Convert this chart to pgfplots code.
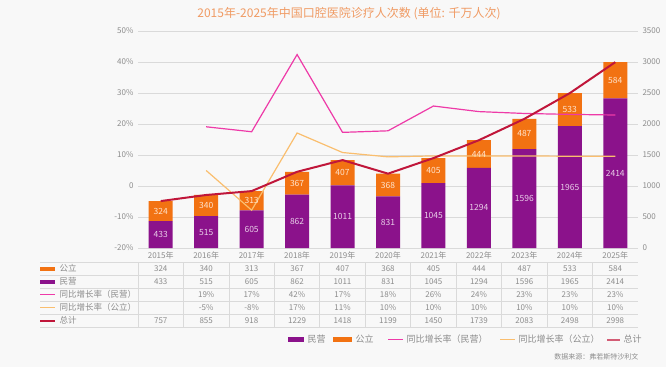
\documentclass[border=0pt]{standalone}
\usepackage{pgfplots}
\usepackage{pgfplotstable}
\pgfplotsset{compat=1.18}
\usepackage{fontspec}
\setmainfont{Noto Sans CJK SC}
\definecolor{bg}{RGB}{248,248,248}
\definecolor{mpurple}{RGB}{139,18,139}
\definecolor{morange}{RGB}{242,114,18}
\definecolor{mpink}{RGB}{238,58,168}
\definecolor{mlorange}{RGB}{250,190,110}
\definecolor{mred}{RGB}{192,22,58}
\definecolor{gridc}{RGB}{218,218,218}
\definecolor{txt}{RGB}{140,140,140}
\definecolor{ttl}{RGB}{240,155,100}
\definecolor{lblp}{RGB}{232,205,232}
\definecolor{lblo}{RGB}{255,228,205}
\pgfplotstableread{
x min gong total gm gg
0 433 324 757  nan nan
1 515 340 855  19.1 5.0
2 605 313 918  17.5 -7.8
3 862 367 1229 42.4 17.1
4 1011 407 1418 17.3 10.8
5 831 368 1199 17.8 9.4
6 1045 405 1450 25.8 9.7
7 1294 444 1739 24.0 9.7
8 1596 487 2083 23.4 9.7
9 1965 533 2498 23.1 9.6
10 2414 584 2998 22.9 9.6
}\data
\pgfplotsset{myax/.style={at={(138pt,119pt)}, anchor=south west, width=500pt, height=217pt,
  scale only axis, xmin=-0.5, xmax=10.5, axis line style={draw=none}, tick style={draw=none},
  clip=false, tick label style={font=\fontsize{8}{9}\selectfont, text=txt}}}
\begin{document}
\begin{tikzpicture}
\fill[bg] (0pt,0pt) rectangle (666pt,367pt);
\node[text=ttl, font=\fontsize{12}{13}\selectfont] at (349pt,353pt) {2015年-2025年中国口腔医院诊疗人次数 (单位: 千万人次)};
% axis 1: bars, right axis
\begin{axis}[myax, ymin=0, ymax=3500, ytick={0,500,...,3500},
  yticklabels={0,500,1000,1500,2000,2500,3000,3500}, yticklabel pos=right,
  yticklabel style={anchor=west, xshift=1pt},
  ymajorgrids, grid style={gridc, line width=0.8pt},
  xtick={0,...,10}, xticklabels={2015年,2016年,2017年,2018年,2019年,2020年,2021年,2022年,2023年,2024年,2025年},
  ybar stacked, bar width=24pt]
\addplot[fill=mpurple, draw=none] table[x=x, y=min] {\data};
\addplot[fill=morange, draw=none] table[x=x, y=gong] {\data};
\end{axis}
% axis 2: growth rates, left axis
\begin{axis}[myax, ymin=-20, ymax=50, ytick={-20,-10,...,50},
  yticklabels={-20\%,-10\%,0,10\%,20\%,30\%,40\%,50\%},
  yticklabel style={anchor=east, xshift=-1pt},
  xtick=\empty]
\addplot[mpink, line width=1.2pt, mark=none] table[x=x, y=gm] {\data};
\addplot[mlorange, line width=1.2pt, mark=none] table[x=x, y=gg] {\data};
\end{axis}
% axis 3: total and bar labels
\begin{axis}[myax, ymin=0, ymax=3500, ytick=\empty, xtick=\empty]
\addplot[draw=none, mark=none, nodes near coords, point meta=explicit symbolic,
  every node near coord/.style={anchor=center, font=\fontsize{8.5}{9}\selectfont, text=lblp}]
  table[x=x, y expr=\thisrow{min}/2, meta=min] {\data};
\addplot[draw=none, mark=none, nodes near coords, point meta=explicit symbolic,
  every node near coord/.style={anchor=center, font=\fontsize{8.5}{9}\selectfont, text=lblo}]
  table[x=x, y expr=\thisrow{min}+\thisrow{gong}/2, meta=gong] {\data};
\addplot[mred, line width=2pt, mark=none] table[x=x, y=total] {\data};
\end{axis}
% data table
\begin{scope}[x=1pt, y=1pt]
\foreach \yy in {105,92,79,66,53,40}{\draw[gridc, line width=0.8pt] (40,\yy) -- (638,\yy);}
\foreach \k in {0,...,10}{\draw[gridc, line width=0.8pt] (138+45.4545*\k,40) -- (138+45.4545*\k,105);}
\begin{scope}[every node/.style={font=\fontsize{8.5}{9}\selectfont, text=txt}]
\fill[morange] (40,96.5) rectangle (55,100.5);
\node[anchor=west] at (56,98.5) {公立};
\fill[mpurple] (40,83.5) rectangle (55,87.5);
\node[anchor=west] at (56,85.5) {民营};
\draw[mpink, line width=1.2pt] (40,72.5) -- (55,72.5);
\node[anchor=west] at (56,72.5) {同比增长率（民营）};
\draw[mlorange, line width=1.2pt] (40,59.5) -- (55,59.5);
\node[anchor=west] at (56,59.5) {同比增长率（公立）};
\draw[mred, line width=2pt] (40,46.5) -- (55,46.5);
\node[anchor=west] at (56,46.5) {总计};
\foreach \k/\a/\b/\c/\d/\e in {0/324/433///757,1/340/515/19\%/-5\%/855,2/313/605/17\%/-8\%/918,3/367/862/42\%/17\%/1229,4/407/1011/17\%/11\%/1418,5/368/831/18\%/10\%/1199,6/405/1045/26\%/10\%/1450,7/444/1294/24\%/10\%/1739,8/487/1596/23\%/10\%/2083,9/533/1965/23\%/10\%/2498,10/584/2414/23\%/10\%/2998}{
  \node[font=\fontsize{8}{9}\selectfont] at (160.73+45.4545*\k,98.5) {\a};
  \node[font=\fontsize{8}{9}\selectfont] at (160.73+45.4545*\k,85.5) {\b};
  \node[font=\fontsize{8}{9}\selectfont] at (160.73+45.4545*\k,72.5) {\c};
  \node[font=\fontsize{8}{9}\selectfont] at (160.73+45.4545*\k,59.5) {\d};
  \node[font=\fontsize{8}{9}\selectfont] at (160.73+45.4545*\k,46.5) {\e};
}
% legend
\fill[mpurple] (288,25) rectangle (304,30);
\node[anchor=west, font=\fontsize{9}{10}\selectfont] at (304,27.5) {民营};
\fill[morange] (333,25) rectangle (352,30);
\node[anchor=west, font=\fontsize{9}{10}\selectfont] at (352,27.5) {公立};
\draw[mpink, line width=1.2pt] (388,27.5) -- (403,27.5);
\node[anchor=west, font=\fontsize{9}{10}\selectfont] at (403,27.5) {同比增长率（民营）};
\draw[mlorange, line width=1.2pt] (500,27.5) -- (515,27.5);
\node[anchor=west, font=\fontsize{9}{10}\selectfont] at (515,27.5) {同比增长率（公立）};
\draw[mred!70, line width=2pt] (607,27.5) -- (620,27.5);
\node[anchor=west, font=\fontsize{9}{10}\selectfont] at (620,27.5) {总计};
\node[anchor=east, font=\fontsize{7}{8}\selectfont] at (642,10) {数据来源：弗若斯特沙利文};
\end{scope}
\end{scope}
\end{tikzpicture}
\end{document}
